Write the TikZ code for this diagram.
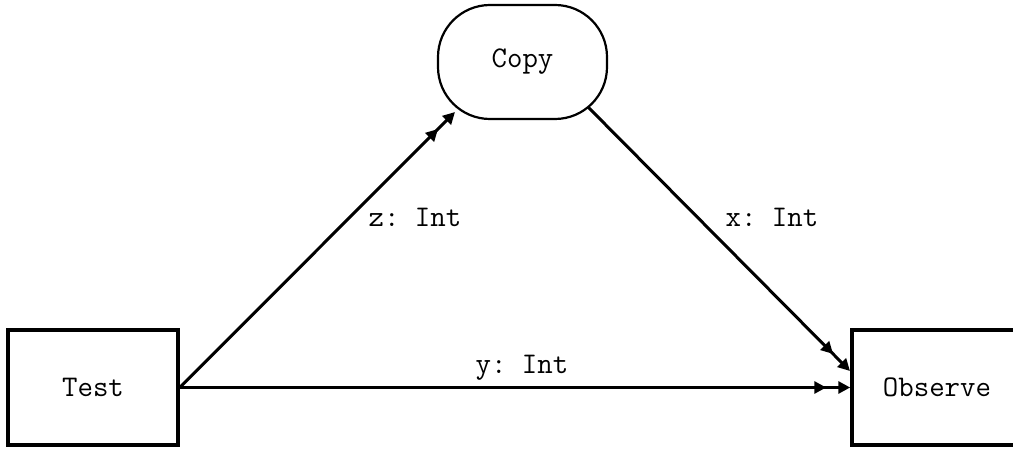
\documentclass[tikz,border=0pt]{standalone}
\usetikzlibrary{arrows.meta}
\begin{document}
\frenchspacing
\begin{tikzpicture}[x=1pt,y=-1pt,
  every node/.style={font=\fontsize{30}{34}\selectfont\ttfamily},
  procbox/.style={draw,line width=3.5pt,minimum width=170pt,minimum height=115pt,inner sep=0pt},
  roundbox/.style={draw,line width=2.2pt,rounded corners=52pt,minimum width=169pt,minimum height=114pt,inner sep=0pt},
  lbl/.style={inner sep=0pt},
  flow/.style={line width=3pt,
    -{Triangle[length=12pt,width=12pt,sep=12pt]Triangle[length=12pt,width=12pt]}}]
\useasboundingbox (0,0) rectangle (1013,449);
% processes
\node[procbox] (test) at (93,387.5) {Test};
\node[procbox] (obs) at (937,387.5) {Observe};
\node[roundbox] (copy) at (522.5,62) {Copy};
% free ends of the slanted channels
\coordinate (zend) at (455,112);
\coordinate (xstart) at (588,107);
\coordinate (xend) at (850,371);
% channels
\draw[flow] (test.east) -- (zend);
\draw[flow] (test.east) -- (obs.west);
\draw[flow] (xstart) -- (xend);
% channel labels
\node[lbl] (zl) at (415,217) {z: Int};
\node[lbl] (xl) at (772,217) {x: Int};
\node[lbl] (yl) at (522,368) {y: Int};
\end{tikzpicture}
\end{document}
